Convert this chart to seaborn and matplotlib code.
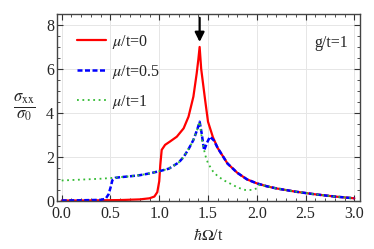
import matplotlib
matplotlib.use('Agg')
import matplotlib.pyplot as plt
import seaborn as sns
import pandas as pd
from matplotlib.ticker import MultipleLocator

# values
x_mu0 = [0.0, 0.2, 0.4, 0.6, 0.8, 0.9, 0.95, 0.98, 1.0, 1.01, 1.025, 1.06, 1.11, 1.18, 1.25,
         1.3, 1.35, 1.384, 1.40, 1.414, 1.43, 1.45, 1.47, 1.5, 1.55, 1.6, 1.7, 1.8, 1.9, 2.0,
         2.1, 2.2, 2.4, 2.6, 2.8, 3.0]
y_mu0 = [0.02, 0.02, 0.03, 0.04, 0.07, 0.12, 0.2, 0.4, 0.9, 1.6, 2.32, 2.55, 2.7, 2.92, 3.3,
         3.83, 4.74, 5.8, 6.4, 7.0, 6.0, 5.3, 4.6, 3.6, 2.9, 2.4, 1.7, 1.28, 0.98, 0.8,
         0.67, 0.57, 0.42, 0.3, 0.2, 0.12]

x_mu05 = [0.0, 0.2, 0.4, 0.45, 0.48, 0.5, 0.52, 0.55, 0.6, 0.7, 0.8, 0.9, 1.0, 1.1, 1.2, 1.25, 1.3,
          1.35, 1.39, 1.414, 1.435, 1.46, 1.49, 1.52, 1.56, 1.6, 1.7, 1.8, 1.9, 2.0, 2.1, 2.2, 2.4,
          2.6, 2.8, 3.0]
y_mu05 = [0.02, 0.03, 0.05, 0.1, 0.3, 0.6, 0.95, 1.05, 1.08, 1.12, 1.17, 1.25, 1.35, 1.47, 1.75, 2.0,
          2.35, 2.77, 3.25, 3.6, 3.07, 2.3, 2.65, 2.92, 2.75, 2.4, 1.7, 1.28, 0.98, 0.8, 0.67, 0.57,
          0.42, 0.3, 0.2, 0.12]

x_mu1 = [0.0, 0.1, 0.2, 0.3, 0.4, 0.5, 0.6, 0.7, 0.8, 0.9, 1.0, 1.1, 1.2, 1.25, 1.3, 1.35, 1.39, 1.414,
         1.44, 1.47, 1.5, 1.55, 1.6, 1.67, 1.74, 1.81, 1.88, 1.95, 2.0, 2.03, 2.1, 2.2, 2.4, 2.6, 2.8,
         3.0]
y_mu1 = [0.93, 0.95, 0.97, 0.99, 1.01, 1.04, 1.08, 1.12, 1.17, 1.25, 1.35, 1.47, 1.75, 2.0, 2.35, 2.77,
         3.25, 3.6, 2.75, 2.1, 1.71, 1.35, 1.12, 0.92, 0.76, 0.6, 0.5, 0.5, 0.57, 0.75, 0.67, 0.57, 0.42,
         0.3, 0.2, 0.12]

labels = [r'$\mu$/t=0', r'$\mu$/t=0.5', r'$\mu$/t=1']

sns.set_style('ticks')
plt.rcParams['font.family'] = ['Liberation Serif', 'DejaVu Serif']
plt.rcParams['mathtext.fontset'] = 'stix'

fig = plt.figure(figsize=(3.74, 2.49), dpi=100)
ax = fig.add_axes([0.152, 0.193, 0.811, 0.751])

df0 = pd.DataFrame({'x': x_mu0, 'y': y_mu0})
df1 = pd.DataFrame({'x': x_mu05, 'y': y_mu05})
df2 = pd.DataFrame({'x': x_mu1, 'y': y_mu1})

sns.lineplot(data=df0, x='x', y='y', ax=ax, color='#ff0000', lw=1.6, sort=False,
             estimator=None, label=labels[0])
sns.lineplot(data=df1, x='x', y='y', ax=ax, color='#0000ff', lw=1.8, sort=False,
             estimator=None, label=labels[1])
ax.lines[-1].set_dashes((2, 1))
sns.lineplot(data=df2, x='x', y='y', ax=ax, color='#33bb33', lw=1.3, sort=False,
             estimator=None, label=labels[2])
ax.lines[-1].set_linestyle((0, (1, 2)))

ax.set_xlim(-0.05, 3.06)
ax.set_ylim(0, 8.5)
ax.xaxis.set_major_locator(MultipleLocator(0.5))
ax.xaxis.set_minor_locator(MultipleLocator(0.1))
ax.yaxis.set_major_locator(MultipleLocator(2))
ax.yaxis.set_minor_locator(MultipleLocator(0.5))
ax.set_xticks([0, 0.5, 1, 1.5, 2, 2.5, 3])
ax.set_xticklabels(['0.0', '0.5', '1.0', '1.5', '2.0', '2.5', '3.0'])
ax.grid(True, which='major', color='#e6e6e6', lw=0.7)
ax.set_axisbelow(True)
ax.tick_params(which='both', direction='in', top=True, right=True, labelsize=11.5,
               color='#333333')
ax.tick_params(axis='x', pad=4)
ax.tick_params(axis='y', pad=2)
ax.tick_params(which='major', length=4)
ax.tick_params(which='minor', length=2)
for s in ax.spines.values():
    s.set_color('#444444')
    s.set_linewidth(1)

ax.set_xlabel(r'$\hbar\Omega$/t', fontsize=11.5, labelpad=4)
ax.set_ylabel(r'$\frac{\sigma_{\rm xx}}{\sigma_0}$', fontsize=17, rotation=0, labelpad=16, va='center')

ax.annotate('', xy=(1.414, 7.1), xytext=(1.414, 8.45),
            arrowprops=dict(arrowstyle='-|>', color='k', lw=1.6, mutation_scale=14))
ax.text(2.59, 7.2, 'g/t=1', fontsize=11.5, ha='left', va='center')

ax.legend(loc='upper left', bbox_to_anchor=(0.02, 0.975), frameon=False, fontsize=11.5,
          handlelength=1.8, labelspacing=0.75, handletextpad=0.4)

fig.savefig('out.png', dpi=100)
